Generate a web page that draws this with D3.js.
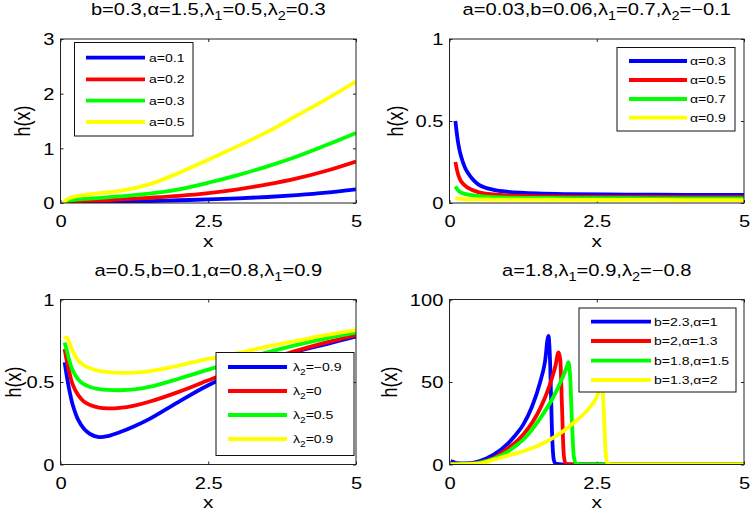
<!DOCTYPE html>
<html><head><meta charset="utf-8">
<script src="https://cdn.jsdelivr.net/npm/d3@7/dist/d3.min.js"></script>
<style>
body{margin:0;background:#fff}
svg{display:block}
text{font-family:"Liberation Sans",Arial,Helvetica,sans-serif;fill:#000}
</style>
</head><body>
<svg id="c" width="750" height="512"></svg>
<script>
// ---------------- DATA ----------------
const xTickValues = [0, 2.5, 5];
const xTickLabels = ["0", "2.5", "5"];

// Panel 1
const p1Title = "b=0.3,α=1.5,λ_1=0.5,λ_2=0.3";
const p1YTicks = [0, 1, 2, 3];
const p1YTickLabels = ["0", "1", "2", "3"];
const p1Legend = ["a=0.1", "a=0.2", "a=0.3", "a=0.5"];
const p1X = [0.05, 0.1, 0.25, 0.5, 0.75, 1, 1.5, 2, 2.5, 3, 3.5, 4, 4.5, 5];
const p1A01 = [0, 0.005, 0.01, 0.015, 0.02, 0.025, 0.035, 0.05, 0.065, 0.085, 0.11, 0.145, 0.19, 0.25];
const p1A02 = [0, 0.01, 0.03, 0.04, 0.05, 0.065, 0.095, 0.13, 0.18, 0.25, 0.34, 0.45, 0.59, 0.76];
const p1A03 = [0, 0.03, 0.06, 0.08, 0.1, 0.12, 0.17, 0.25, 0.37, 0.51, 0.67, 0.85, 1.06, 1.28];
const p1A05 = [0, 0.06, 0.12, 0.16, 0.19, 0.22, 0.34, 0.55, 0.79, 1.04, 1.3, 1.6, 1.9, 2.22];

// Panel 2
const p2Title = "a=0.03,b=0.06,λ_1=0.7,λ_2=−0.1";
const p2YTicks = [0, 0.5, 1];
const p2YTickLabels = ["0", "0.5", "1"];
const p2Legend = ["α=0.3", "α=0.5", "α=0.7", "α=0.9"];
const p2X = [0.1, 0.15, 0.2, 0.3, 0.5, 0.75, 1, 1.5, 2, 3, 4, 5];
const p2Al03 = [0.5, 0.36, 0.28, 0.19, 0.11, 0.08, 0.068, 0.058, 0.054, 0.051, 0.05, 0.049];
const p2Al05 = [0.25, 0.17, 0.13, 0.095, 0.065, 0.052, 0.046, 0.041, 0.039, 0.037, 0.036, 0.035];
const p2Al07 = [0.1, 0.075, 0.063, 0.052, 0.042, 0.036, 0.033, 0.031, 0.03, 0.029, 0.028, 0.028];
const p2Al09 = [0.03, 0.027, 0.025, 0.023, 0.022, 0.021, 0.02, 0.02, 0.019, 0.019, 0.018, 0.018];

// Panel 3
const p3Title = "a=0.5,b=0.1,α=0.8,λ_1=0.9";
const p3YTicks = [0, 0.5, 1];
const p3YTickLabels = ["0", "0.5", "1"];
const p3Legend = ["λ_2=−0.9", "λ_2=0", "λ_2=0.5", "λ_2=0.9"];
const p3X = [0.07, 0.1, 0.15, 0.2, 0.3, 0.4, 0.5, 0.65, 0.8, 1.0, 1.25, 1.5, 2.0, 2.5, 3.0, 3.5, 4.0, 4.5, 5.0];
const p3Lm09 = [0.62, 0.55, 0.45, 0.37, 0.27, 0.215, 0.185, 0.166, 0.172, 0.195, 0.232, 0.275, 0.38, 0.48, 0.56, 0.63, 0.685, 0.73, 0.775];
const p3L0 = [0.70, 0.64, 0.56, 0.49, 0.42, 0.38, 0.36, 0.345, 0.34, 0.343, 0.357, 0.38, 0.44, 0.51, 0.58, 0.635, 0.69, 0.74, 0.785];
const p3L05 = [0.74, 0.70, 0.63, 0.575, 0.515, 0.485, 0.47, 0.457, 0.452, 0.45, 0.455, 0.47, 0.52, 0.575, 0.63, 0.68, 0.725, 0.765, 0.80];
const p3L09 = [0.76, 0.77, 0.74, 0.69, 0.63, 0.6, 0.583, 0.567, 0.56, 0.555, 0.557, 0.565, 0.6, 0.64, 0.675, 0.715, 0.75, 0.785, 0.815];

// Panel 4
const p4Title = "a=1.8,λ_1=0.9,λ_2=−0.8";
const p4YTicks = [0, 50, 100];
const p4YTickLabels = ["0", "50", "100"];
const p4Legend = ["b=2.3,α=1", "b=2,α=1.3", "b=1.8,α=1.5", "b=1.3,α=2"];
const p4B23X = [0.02, 0.06, 0.12, 0.25, 0.5, 0.75, 1.0, 1.1, 1.25, 1.4, 1.54, 1.62, 1.68, 1.71, 1.74, 1.77, 1.8, 1.9, 5];
const p4B23Y = [2.0, 1.6, 0.8, 0.6, 2, 6, 13, 17, 24, 35, 50, 62, 78, 60, 20, 3, 0.5, 0, 0];
const p4B2X = [0.02, 0.25, 0.5, 0.75, 1.0, 1.1, 1.25, 1.54, 1.7, 1.8, 1.85, 1.88, 1.91, 1.94, 1.97, 2.05, 5];
const p4B2Y = [0.5, 0.4, 1.2, 4, 10, 12.7, 18, 34, 48, 60, 68, 64, 35, 6, 0.5, 0, 0];
const p4B18X = [0.02, 0.3, 0.5, 0.75, 1.0, 1.1, 1.25, 1.54, 1.75, 1.9, 2.0, 2.02, 2.05, 2.08, 2.11, 2.15, 2.25, 5];
const p4B18Y = [0.2, 0.3, 1, 3.5, 8, 10.7, 15, 28, 40, 51, 60, 62, 52, 25, 5, 0.5, 0, 0];
const p4B13X = [0.02, 0.5, 0.8, 1.0, 1.25, 1.54, 1.8, 2.1, 2.39, 2.5, 2.59, 2.62, 2.65, 2.68, 2.73, 5];
const p4B13Y = [0, 0.5, 3.5, 5.5, 8, 12, 17, 25, 35, 41, 50, 32, 8, 1, 0, 0];

const seriesColors = ["#0000ff", "#ff0000", "#00ff00", "#ffff00"];

// ---------------- DRAWING ----------------
const SX = 1.22; // horizontal glyph stretch of the original picture
const svg = d3.select("#c");
const defs = svg.append("defs");

function rich(textSel, str, size) {
  const parts = str.split(/_(.)/);
  let shifted = false;
  parts.forEach((p, i) => {
    if (!p) return;
    const t = textSel.append("tspan").text(p);
    if (i % 2 === 1) {
      t.attr("font-size", size * 0.72).attr("dy", size * 0.3);
      shifted = true;
    } else if (shifted) {
      t.attr("dy", -size * 0.3);
      shifted = false;
    }
  });
}

function drawPanel(id, box, title, titleY, yDomain, yTicks, yTickLabels, series, legendLabels, lg, yLabelX, curve) {
  const g = svg.append("g");
  const x = d3.scaleLinear().domain([0, 5]).range([box.x0, box.x1]);
  const y = d3.scaleLinear().domain(yDomain).range([box.y1, box.y0]);

  defs.append("clipPath").attr("id", "clip" + id)
    .append("rect").attr("x", box.x0).attr("y", box.y0)
    .attr("width", box.x1 - box.x0).attr("height", box.y1 - box.y0);

  // axes
  const axB = g.append("g").attr("transform", `translate(0,${box.y1})`)
    .call(d3.axisBottom(x).tickValues(xTickValues).tickFormat((d, i) => xTickLabels[i])
      .tickSizeInner(-3).tickSizeOuter(0).tickPadding(12.3));
  const axL = g.append("g").attr("transform", `translate(${box.x0},0)`)
    .call(d3.axisLeft(y).tickValues(yTicks).tickFormat((d, i) => yTickLabels[i])
      .tickSizeInner(-3).tickSizeOuter(0).tickPadding(5));
  const axT = g.append("g").attr("transform", `translate(0,${box.y0})`)
    .call(d3.axisTop(x).tickValues(xTickValues).tickFormat("").tickSizeInner(-3).tickSizeOuter(0));
  const axR = g.append("g").attr("transform", `translate(${box.x1},0)`)
    .call(d3.axisRight(y).tickValues(yTicks).tickFormat("").tickSizeInner(-3).tickSizeOuter(0));
  [axB, axL, axT, axR].forEach(a => {
    a.select(".domain").remove();
    a.selectAll("line").attr("stroke", "#222");
    a.selectAll("text").attr("font-size", 16.5).attr("font-family", null)
      .attr("fill", "#000").attr("transform", `scale(${SX},1)`);
  });
  axB.selectAll("text").attr("dy", "0.71em");
  axL.selectAll("text").attr("dy", "0.36em");

  // lines
  const line = d3.line().x(d => x(d[0])).y(d => y(d[1])).curve(curve);
  const lg0 = g.append("g").attr("clip-path", `url(#clip${id})`);
  series.forEach((s, i) => {
    const pts = s.x.map((xv, k) => [xv, s.y[k]]);
    lg0.append("path").datum(pts).attr("d", line)
      .attr("fill", "none").attr("stroke", seriesColors[i])
      .attr("stroke-width", 3.8).attr("stroke-linejoin", "round").attr("stroke-linecap", "butt");
  });

  // box
  g.append("rect").attr("x", box.x0).attr("y", box.y0)
    .attr("width", box.x1 - box.x0).attr("height", box.y1 - box.y0)
    .attr("fill", "none").attr("stroke", "#222").attr("stroke-width", 1);

  // title
  const tt = g.append("text").attr("text-anchor", "middle").attr("font-size", 16.5)
    .attr("transform", `translate(${(box.x0 + box.x1) / 2},${titleY}) scale(${SX},1)`);
  rich(tt, title, 16.5);

  // axis labels
  g.append("text").attr("text-anchor", "middle").attr("font-size", 17)
    .attr("transform", `translate(${(box.x0 + box.x1) / 2},${box.y1 + 43.5}) scale(${SX},1)`)
    .text("x");
  g.append("text").attr("text-anchor", "middle").attr("font-size", 18)
    .attr("transform", `translate(${yLabelX},${(box.y0 + box.y1) / 2}) scale(${SX},1) rotate(-90)`)
    .text("h(x)");

  // legend
  const L = g.append("g");
  L.append("rect").attr("x", lg.x0).attr("y", lg.y0)
    .attr("width", lg.x1 - lg.x0).attr("height", lg.y1 - lg.y0)
    .attr("fill", "#fff").attr("stroke", "#111").attr("stroke-width", 1);
  legendLabels.forEach((lab, i) => {
    const ry = lg.rows[i];
    L.append("line").attr("x1", lg.lx0).attr("x2", lg.lx1).attr("y1", ry).attr("y2", ry)
      .attr("stroke", seriesColors[i]).attr("stroke-width", 3.8);
    const t = L.append("text").attr("font-size", 11.5)
      .attr("transform", `translate(${lg.tx},${ry + 4.1}) scale(${SX},1)`);
    rich(t, lab, 11.5);
  });
}

const smooth = d3.curveCatmullRom.alpha(0.5);

drawPanel(1, {x0: 60.5, x1: 356, y0: 39, y1: 203}, p1Title, 15, [0, 3], p1YTicks, p1YTickLabels,
  [{x: p1X, y: p1A01}, {x: p1X, y: p1A02}, {x: p1X, y: p1A03}, {x: p1X, y: p1A05}], p1Legend,
  {x0: 74.5, x1: 193, y0: 42.5, y1: 136, lx0: 86, lx1: 145, tx: 149, rows: [57.7, 79.3, 100.7, 122]}, 30.4, smooth);

drawPanel(2, {x0: 449.5, x1: 744, y0: 39, y1: 203}, p2Title, 15, [0, 1], p2YTicks, p2YTickLabels,
  [{x: p2X, y: p2Al03}, {x: p2X, y: p2Al05}, {x: p2X, y: p2Al07}, {x: p2X, y: p2Al09}], p2Legend,
  {x0: 617, x1: 735, y0: 47.5, y1: 131, lx0: 629, lx1: 687, tx: 690, rows: [61, 80, 99, 117.7]}, 403.4, smooth);

drawPanel(3, {x0: 60.5, x1: 356, y0: 299.5, y1: 464.5}, p3Title, 276, [0, 1], p3YTicks, p3YTickLabels,
  [{x: p3X, y: p3Lm09}, {x: p3X, y: p3L0}, {x: p3X, y: p3L05}, {x: p3X, y: p3L09}], p3Legend,
  {x0: 216, x1: 354, y0: 352.5, y1: 455.5, lx0: 228, lx1: 287, tx: 293, rows: [367, 391, 415, 439]}, 20.5, smooth);

drawPanel(4, {x0: 449.5, x1: 744, y0: 299.5, y1: 464.5}, p4Title, 276, [0, 100], p4YTicks, p4YTickLabels,
  [{x: p4B23X, y: p4B23Y}, {x: p4B2X, y: p4B2Y}, {x: p4B18X, y: p4B18Y}, {x: p4B13X, y: p4B13Y}], p4Legend,
  {x0: 579, x1: 736, y0: 308, y1: 392, lx0: 591, lx1: 651, tx: 654, rows: [321.7, 341, 360.7, 380]}, 397.4, d3.curveMonotoneX);
</script>
</body></html>
